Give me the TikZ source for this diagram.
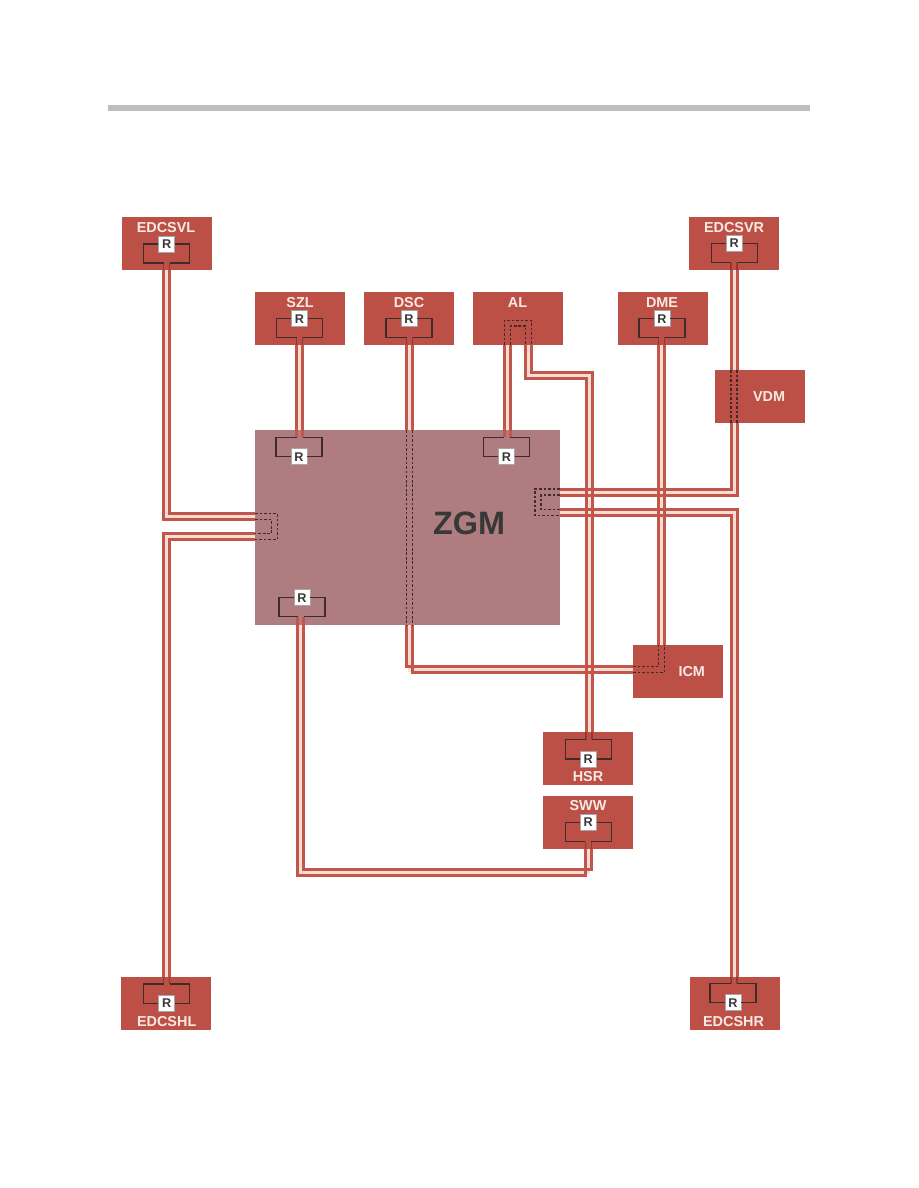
\documentclass[tikz,border=0pt]{standalone}
\usepackage{fontspec}
\setmainfont{Liberation Sans}
\usetikzlibrary{calc}
\definecolor{ecured}{HTML}{BC5046}
\definecolor{railred}{HTML}{C2564B}
\definecolor{gatewaymauve}{HTML}{AF7D80}
\definecolor{railgap}{HTML}{F7DDD3}
\definecolor{labelpale}{HTML}{F8E9E3}
\definecolor{loopdark}{HTML}{3E2B2B}
\definecolor{stubdark}{HTML}{8E3A33}
\definecolor{headergray}{HTML}{BEBEBE}
\tikzset{
  ecubox/.style={fill=ecured,draw=none,minimum width=67.5pt,minimum height=40pt,inner sep=0pt},
  ecutext/.style={text=labelpale,font=\fontsize{10.8}{12}\selectfont\bfseries,inner sep=0pt},
  rtag/.style={fill=white,draw=black!35,line width=0.7pt,minimum width=12pt,minimum height=12pt,
    inner sep=0pt,text=black!78,font=\fontsize{9.5}{10}\selectfont\bfseries},
  railband/.style={draw=railgap,line width=3pt},
  rail/.style={draw=railred,line width=2.25pt},
  loopline/.style={draw=loopdark,line width=1pt},
  boxstub/.style={draw=stubdark,line width=0.9pt},
  gatewaystub/.style={draw=railred,line width=2.25pt},
  hidden/.style={draw=loopdark,line width=0.85pt,dash pattern=on 2pt off 1.4pt}
}
\def\off{2.25pt}
% Terminating loop beside a control unit: #1 tag node, #2 signed offset to the loop's far side,
% #3 bus coordinate on the box edge, #4 stub style
\newcommand{\termloop}[4]{%
  \coordinate (lc) at ($(#1)+(-23,#2)$);
  \coordinate (rc) at ($(#1)+(23,#2)$);
  \draw[#4] ($(#3 |- lc)+(-3,0)$) -- ($(#3)+(-3,0)$);
  \draw[#4] ($(#3 |- rc)+(3,0)$) -- ($(#3)+(3,0)$);
  \draw[loopline] (#1.west) -| (lc) -- ($(#3 |- lc)+(-3,0)$);
  \draw[loopline] (#1.east) -| (rc) -- ($(#3 |- rc)+(3,0)$);
}
\begin{document}
\begin{tikzpicture}[x=0.75pt,y=-0.75pt]
\useasboundingbox (0,0) rectangle (918,1188);
\fill[white] (0,0) rectangle (918,1188);
\fill[headergray] (108,105) rectangle (810,111);

% Central gateway and control units
\node[fill=gatewaymauve,minimum width=228.75pt,minimum height=146.25pt,inner sep=0pt] (zgm) at (407.5,527.5) {};
\node[ecubox] (edcsvl) at (166.5,243.5) {};
\node[ecubox] (edcsvr) at (734,243.5) {};
\node[ecubox] (szl) at (300,318.5) {};
\node[ecubox] (dsc) at (409,318.5) {};
\node[ecubox] (al) at (518,318.5) {};
\node[ecubox] (dme) at (662.5,318.5) {};
\node[ecubox] (vdm) at (760,396.5) {};
\node[ecubox] (icm) at (678,671.5) {};
\node[ecubox] (hsr) at (588,758.5) {};
\node[ecubox] (sww) at (588,822.5) {};
\node[ecubox] (edcshl) at (166,1003.5) {};
\node[ecubox] (edcshr) at (734.5,1003.5) {};

% Bus attachment points on the box edges
\coordinate (pvlA) at (166.5,270);
\coordinate (pvlB) at (255,516.7);
\coordinate (phlA) at (166.7,977);
\coordinate (phlB) at (255,536.5);
\coordinate (pszlA) at (299.7,345);
\coordinate (pszlB) at (299.7,430);
\coordinate (pdscA) at (409.5,345);
\coordinate (pdscB) at (409.5,430);
\coordinate (pdscC) at (409.5,625);
\coordinate (pdscD) at (633,669.5);
\coordinate (palA) at (507.2,345);
\coordinate (palB) at (507.2,430);
\coordinate (palC) at (528.8,345);
\coordinate (palK) at (560,375);
\coordinate (phsr) at (589,732);
\coordinate (pdmeA) at (661.7,345);
\coordinate (pdmeB) at (661.7,645);
\coordinate (pvrA) at (734,270);
\coordinate (pvrB) at (734,370);
\coordinate (pvrC) at (734,423);
\coordinate (pvrD) at (560,492);
\coordinate (phrA) at (734,977);
\coordinate (phrB) at (560,512.7);
\coordinate (pswA) at (588.3,849);
\coordinate (pswB) at (300.7,625);
\coordinate (pswK) at (450,872);

% Pale gap between the two wires of each bus
\draw[railband] (pvlA) |- (pvlB);
\draw[railband] (phlA) |- (phlB);
\draw[railband] (pszlA) -- (pszlB);
\draw[railband] (pdscA) -- (pdscB);
\draw[railband] (pdscC) |- (pdscD);
\draw[railband] (palA) -- (palB);
\draw[railband] (palC) |- (palK) -| (phsr);
\draw[railband] (pdmeA) -- (pdmeB);
\draw[railband] (pvrA) -- (pvrB);
\draw[railband] (pvrC) |- (pvrD);
\draw[railband] (phrA) |- (phrB);
\draw[railband] (pswA) |- (pswK) -| (pswB);

% The two wires of each bus
\draw[rail] ([xshift=-\off]pvlA) |- ([yshift=-\off]pvlB);
\draw[rail] ([xshift=\off]pvlA) |- ([yshift=\off]pvlB);
\draw[rail] ([xshift=-\off]phlA) |- ([yshift=\off]phlB);
\draw[rail] ([xshift=\off]phlA) |- ([yshift=-\off]phlB);
\draw[rail] ([xshift=-\off]pszlA) -- ([xshift=-\off]pszlB);
\draw[rail] ([xshift=\off]pszlA) -- ([xshift=\off]pszlB);
\draw[rail] ([xshift=-\off]pdscA) -- ([xshift=-\off]pdscB);
\draw[rail] ([xshift=\off]pdscA) -- ([xshift=\off]pdscB);
\draw[rail] ([xshift=-\off]pdscC) |- ([yshift=\off]pdscD);
\draw[rail] ([xshift=\off]pdscC) |- ([yshift=-\off]pdscD);
\draw[rail] ([xshift=-\off]palA) -- ([xshift=-\off]palB);
\draw[rail] ([xshift=\off]palA) -- ([xshift=\off]palB);
\draw[rail] ([xshift=-\off]palC) |- ([yshift=-\off]palK) -| ([xshift=-\off]phsr);
\draw[rail] ([xshift=\off]palC) |- ([yshift=\off]palK) -| ([xshift=\off]phsr);
\draw[rail] ([xshift=-\off]pdmeA) -- ([xshift=-\off]pdmeB);
\draw[rail] ([xshift=\off]pdmeA) -- ([xshift=\off]pdmeB);
\draw[rail] ([xshift=-\off]pvrA) -- ([xshift=-\off]pvrB);
\draw[rail] ([xshift=\off]pvrA) -- ([xshift=\off]pvrB);
\draw[rail] ([xshift=-\off]pvrC) |- ([yshift=\off]pvrD);
\draw[rail] ([xshift=\off]pvrC) |- ([yshift=-\off]pvrD);
\draw[rail] ([xshift=-\off]phrA) |- ([yshift=-\off]phrB);
\draw[rail] ([xshift=\off]phrA) |- ([yshift=\off]phrB);
\draw[rail] ([xshift=-\off]pswA) |- ([yshift=-\off]pswK) -| ([xshift=-\off]pswB);
\draw[rail] ([xshift=\off]pswA) |- ([yshift=\off]pswK) -| ([xshift=\off]pswB);

% Terminating resistors
\node[rtag] (redcsvl) at (166.7,244) {R};
\node[rtag] (redcsvr) at (734.3,243.5) {R};
\node[rtag] (rszl) at (299.5,318.7) {R};
\node[rtag] (rdsc) at (409,318.7) {R};
\node[rtag] (rdme) at (662,318.7) {R};
\node[rtag] (rzgma) at (299,456.7) {R};
\node[rtag] (rzgmb) at (506.5,456.7) {R};
\node[rtag] (rzgmc) at (302,597.7) {R};
\node[rtag] (rhsr) at (588.3,759) {R};
\node[rtag] (rsww) at (588.3,822.3) {R};
\node[rtag] (redcshl) at (166.7,1003.3) {R};
\node[rtag] (redcshr) at (733,1002.7) {R};

\termloop{redcsvl}{19}{pvlA}{boxstub}
\termloop{redcsvr}{19.2}{pvrA}{boxstub}
\termloop{rszl}{18.6}{pszlA}{boxstub}
\termloop{rdsc}{18.6}{pdscA}{boxstub}
\termloop{rdme}{18.6}{pdmeA}{boxstub}
\termloop{rzgma}{-19.5}{pszlB}{gatewaystub}
\termloop{rzgmb}{-19.5}{palB}{gatewaystub}
\termloop{rzgmc}{19}{pswB}{gatewaystub}
\termloop{rhsr}{-19.5}{phsr}{boxstub}
\termloop{rsww}{19.4}{pswA}{boxstub}
\termloop{redcshl}{-19.3}{phlA}{boxstub}
\termloop{redcshr}{-19}{phrA}{boxstub}

% Wires routed straight through a unit
\draw[hidden] ([xshift=-\off]pdscB) -- ([xshift=-\off]pdscC);
\draw[hidden] ([xshift=\off]pdscB) -- ([xshift=\off]pdscC);
\draw[hidden] ([xshift=-\off]pvrB) -- ([xshift=-\off]pvrC);
\draw[hidden] ([xshift=\off]pvrB) -- ([xshift=\off]pvrC);
\draw[hidden] ([xshift=-\off]palA) |- (518,320.7) -| ([xshift=\off]palC);
\draw[hidden] ([xshift=\off]palA) |- (518,326) -| ([xshift=-\off]palC);
\draw[hidden] ([yshift=-\off]pdscD) -| ([xshift=\off]pdmeB);
\draw[hidden] ([yshift=\off]pdscD) -| ([xshift=-\off]pdmeB);
\draw[hidden] ([yshift=\off]pvlB) -| (277.3,526) |- ([yshift=-\off]phlB);
\draw[hidden] ([yshift=-\off]pvlB) -| (271.5,526) |- ([yshift=\off]phlB);
\draw[hidden] ([yshift=\off]pvrD) -| (535,502) |- ([yshift=-\off]phrB);
\draw[hidden] ([yshift=-\off]pvrD) -| (541,502) |- ([yshift=\off]phrB);

% Unit names
\node[ecutext] (tedcsvl) at (166,228) {EDCSVL};
\node[ecutext] (tedcsvr) at (734,228) {EDCSVR};
\node[ecutext] (tszl) at (300,302.5) {SZL};
\node[ecutext] (tdsc) at (409,302.5) {DSC};
\node[ecutext] (tal) at (517.5,302.5) {AL};
\node[ecutext] (tdme) at (662,302.5) {DME};
\node[ecutext] (tvdm) at (769,397) {VDM};
\node[ecutext] (ticm) at (691.7,672) {ICM};
\node[ecutext] (thsr) at (588,777) {HSR};
\node[ecutext] (tsww) at (588,806) {SWW};
\node[ecutext] (tedcshl) at (166.7,1021.5) {EDCSHL};
\node[ecutext] (tedcshr) at (733.5,1021.5) {EDCSHR};
\node[text=black!78,font=\fontsize{24.3}{26}\selectfont\bfseries,inner sep=0pt] (tzgm) at (469,523.5) {ZGM};
\end{tikzpicture}
\end{document}
